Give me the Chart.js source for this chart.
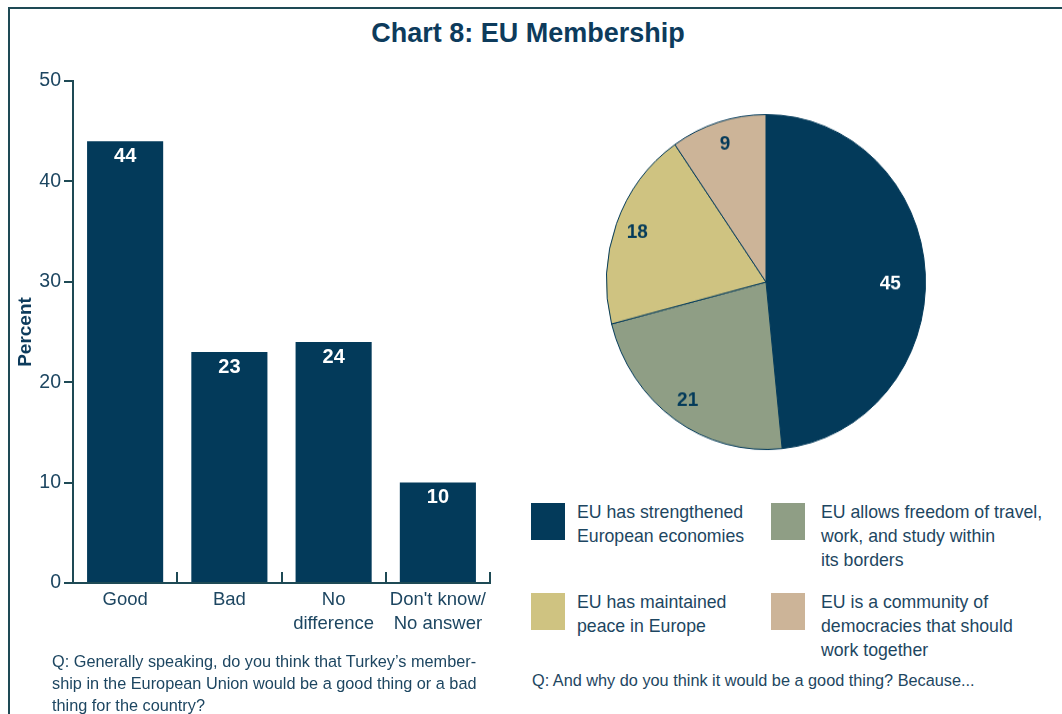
<!DOCTYPE html>
<html>
<head>
<meta charset="utf-8">
<script src="https://cdn.jsdelivr.net/npm/chart.js@4.4.1/dist/chart.umd.min.js"></script>
<style>
  html, body { margin: 0; padding: 0; background: #fff; }
  body { width: 1062px; height: 714px; position: relative; overflow: hidden;
         font-family: "Liberation Sans", Arial, sans-serif; color: #1d4661; }
  #frameTop { position: absolute; left: 8px; top: 7px; width: 1054px; height: 2px; background: #1e4a55; }
  #frameLeft { position: absolute; left: 8px; top: 7px; width: 2px; height: 707px; background: #1e4a55; }
  #title { position: absolute; left: 0; top: 18px; width: 1056px; text-align: center;
           font-weight: bold; font-size: 27px; color: #0d3b5c; }
  #barBox { position: absolute; left: 0; top: 60px; width: 520px; height: 600px; }
  #pieBox { position: absolute; left: 596px; top: 112px; width: 340px; height: 340px;
            transform: scaleY(1.05); transform-origin: 170px 170px; }
  .q { position: absolute; font-size: 16.3px; line-height: 22px; }
  #q1 { left: 52px; top: 650px; width: 460px; }
  #q2 { left: 532px; top: 669px; width: 520px; }
  #legend { position: absolute; left: 531px; top: 500px; width: 530px; }
  .item { position: absolute; }
  .sw { position: absolute; left: 0; top: 3px; width: 34px; height: 37px; }
  .txt { position: absolute; top: 0; font-size: 17.7px; line-height: 24px; white-space: nowrap; }
</style>
</head>
<body>
<div id="frameTop"></div>
<div id="frameLeft"></div>
<div id="title">Chart 8: EU Membership</div>
<div id="barBox"><canvas id="barChart"></canvas></div>
<div id="pieBox"><canvas id="pieChart"></canvas></div>
<div id="legend"></div>
<div class="q" id="q1">Q: Generally speaking, do you think that Turkey’s member-<br>ship in the European Union would be a good thing or a bad<br>thing for the country?</div>
<div class="q" id="q2">Q: And why do you think it would be a good thing? Because...</div>
<script>
// bar chart data
const barLabels = [['Good'], ['Bad'], ['No', 'difference'], ["Don't know/", 'No answer']];
const barValues = [44, 23, 24, 10];
const yTicks = [0, 10, 20, 30, 40, 50];

// pie chart data
const pieLabels = [
  ['EU has strengthened', 'European economies'],
  ['EU allows freedom of travel,', 'work, and study within', 'its borders'],
  ['EU has maintained', 'peace in Europe'],
  ['EU is a community of', 'democracies that should', 'work together']
];
const pieValues = [45, 21, 18, 9];
const pieColors = ['#033a5a', '#8f9e85', '#cfc381', '#ccb498'];

const navy = '#033a5a';
const textColor = '#1d4661';
const fontFamily = '"Liberation Sans", Arial, sans-serif';

// labels inside the bars
const barValueLabels = {
  id: 'barValueLabels',
  afterDatasetsDraw(chart) {
    const ctx = chart.ctx;
    const meta = chart.getDatasetMeta(0);
    ctx.save();
    ctx.fillStyle = '#ffffff';
    ctx.font = 'bold 20px ' + fontFamily;
    ctx.textAlign = 'center';
    ctx.textBaseline = 'middle';
    meta.data.forEach((bar, i) => {
      ctx.fillText(String(barValues[i]), bar.x, bar.y + 15);
    });
    ctx.restore();
  }
};

// small upward ticks at the category boundaries
const boundaryTicks = {
  id: 'boundaryTicks',
  afterDraw(chart) {
    const x = chart.scales.x;
    const ctx = chart.ctx;
    const yBase = chart.chartArea.bottom;
    ctx.save();
    ctx.strokeStyle = '#1e4a55';
    ctx.lineWidth = 2;
    for (let i = 1; i <= barValues.length; i++) {
      const px = Math.round(x.getPixelForValue(i - 0.5));
      ctx.beginPath();
      ctx.moveTo(px, yBase);
      ctx.lineTo(px, yBase - 11);
      ctx.stroke();
    }
    ctx.restore();
  }
};

new Chart(document.getElementById('barChart'), {
  type: 'bar',
  data: {
    labels: barLabels,
    datasets: [{
      data: barValues,
      backgroundColor: navy,
      borderWidth: 0,
      barPercentage: 0.73,
      categoryPercentage: 1
    }]
  },
  options: {
    responsive: true,
    maintainAspectRatio: false,
    animation: false,
    events: [],
    layout: { padding: { top: 21, right: 30, left: 0, bottom: 0 } },
    plugins: { legend: { display: false }, tooltip: { enabled: false } },
    scales: {
      x: {
        offset: true,
        grid: { display: false, drawTicks: false },
        border: { display: true, color: '#1e4a55', width: 2 },
        ticks: {
          color: textColor,
          padding: 5,
          maxRotation: 0,
          autoSkip: false,
          font: { size: 18.5, family: fontFamily, lineHeight: 1.3 }
        },
        afterFit(scale) { scale.height = 77; }
      },
      y: {
        min: 0,
        max: 50,
        afterBuildTicks(scale) { scale.ticks = yTicks.map(v => ({ value: v })); },
        grid: { drawOnChartArea: false, drawTicks: true, tickLength: 9, color: '#1e4a55', lineWidth: 2 },
        border: { display: true, color: '#1e4a55', width: 2 },
        ticks: {
          color: textColor,
          padding: 3,
          font: { size: 19.5, family: fontFamily }
        },
        title: {
          display: true,
          text: 'Percent',
          color: '#0d3b5c',
          padding: { top: 14, bottom: 0 },
          font: { size: 19, weight: 'bold', family: fontFamily }
        },
        afterFit(scale) { scale.width = 73; }
      }
    }
  },
  plugins: [barValueLabels, boundaryTicks]
});

// numbers on the pie slices
const pieValueLabels = {
  id: 'pieValueLabels',
  afterDatasetsDraw(chart) {
    const ctx = chart.ctx;
    const meta = chart.getDatasetMeta(0);
    ctx.save();
    ctx.font = 'bold 19px ' + fontFamily;
    ctx.textAlign = 'center';
    ctx.textBaseline = 'middle';
    meta.data.forEach((arc, i) => {
      const mid = (arc.startAngle + arc.endAngle) / 2;
      const r = arc.outerRadius * (i === 0 ? 0.78 : 0.86);
      ctx.fillStyle = i === 0 ? '#ffffff' : navy;
      ctx.fillText(String(pieValues[i]), arc.x + Math.cos(mid) * r, arc.y + Math.sin(mid) * r + (i === 0 ? 8 : 0));
    });
    ctx.restore();
  }
};

new Chart(document.getElementById('pieChart'), {
  type: 'pie',
  data: {
    labels: pieLabels.map(l => l.join(' ')),
    datasets: [{
      data: pieValues,
      backgroundColor: pieColors,
      borderColor: navy,
      borderWidth: 1
    }]
  },
  options: {
    responsive: true,
    maintainAspectRatio: false,
    animation: false,
    events: [],
    layout: { padding: 10 },
    plugins: { legend: { display: false }, tooltip: { enabled: false } }
  },
  plugins: [pieValueLabels]
});

// legend in two columns
const legend = document.getElementById('legend');
const legendPos = [[0, 0], [240, 0], [0, 90], [240, 90]];
const legendTextX = [46, 50, 46, 50];
pieLabels.forEach((lines, i) => {
  const item = document.createElement('div');
  item.className = 'item';
  item.style.left = legendPos[i][0] + 'px';
  item.style.top = legendPos[i][1] + 'px';
  const sw = document.createElement('div');
  sw.className = 'sw';
  sw.style.background = pieColors[i];
  const txt = document.createElement('div');
  txt.className = 'txt';
  txt.style.left = legendTextX[i] + 'px';
  txt.innerHTML = lines.join('<br>');
  item.appendChild(sw);
  item.appendChild(txt);
  legend.appendChild(item);
});
</script>
</body>
</html>
